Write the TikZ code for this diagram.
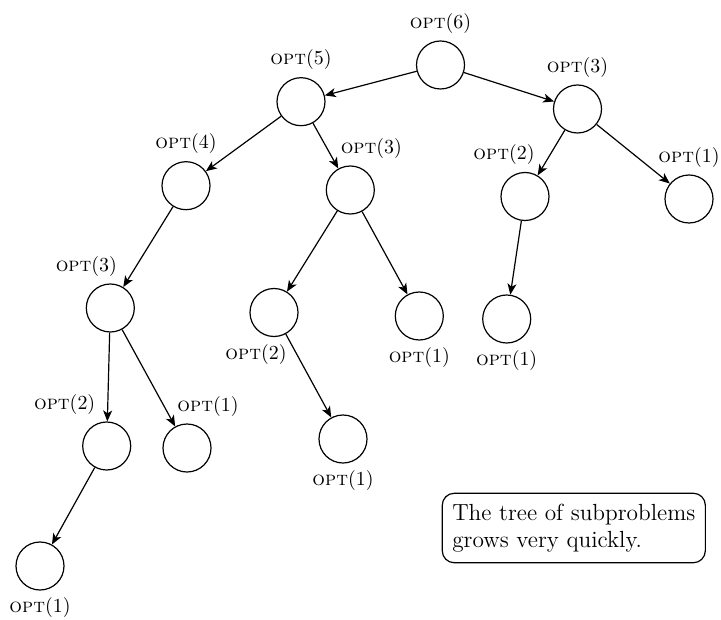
\documentclass[tikz,border=0pt]{standalone}
\usetikzlibrary{arrows.meta}
\tikzset{
  sub/.style={draw, circle, minimum size=24bp, inner sep=0pt},
  note/.style={draw, rounded corners=6bp, align=left, inner xsep=5bp, inner ysep=5.3bp,
    font=\fontsize{11.7}{13.6}\selectfont},
}
\newcommand{\opt}[1]{\textsc{opt}(#1)}
\begin{document}
\begin{tikzpicture}[>={Stealth[length=5.5bp, width=4.5bp, inset=1.5bp]}, x=0.5bp, y=-0.5bp, line width=0.6pt]
\useasboundingbox (0,0) rectangle (721,620);
% level 0 and 1
\node[sub, label={above:\opt{6}}] (n6) at (440.5,65) {};
\node[sub, label={above:\opt{5}}] (n5) at (301,101.7) {};
\node[sub, label={above:\opt{3}}] (n3a) at (577.5,109) {};
% level 2
\node[sub, label={above:\opt{4}}] (n4) at (186,185.7) {};
\node[sub, label={[xshift=10.5bp]above:\opt{3}}] (n3b) at (350.3,190) {};
\node[sub, label={[xshift=-10.5bp]above:\opt{2}}] (n2a) at (525,196.5) {};
\node[sub, label={above:\opt{1}}] (n1a) at (689,199) {};
% level 3
\node[sub, label={[xshift=-12bp]above:\opt{3}}] (n3c) at (110.3,308) {};
\node[sub, label={[xshift=-9bp]below:\opt{2}}] (n2b) at (274,312.5) {};
\node[sub, label={below:\opt{1}}] (n1b) at (419.3,316) {};
\node[sub, label={below:\opt{1}}] (n1c) at (506.7,319) {};
% level 4 and 5
\node[sub, label={[xshift=-21bp]above:\opt{2}}] (n2c) at (106.7,446) {};
\node[sub, label={[xshift=10.5bp]above:\opt{1}}] (n1e) at (187,448) {};
\node[sub, label={below:\opt{1}}] (n1d) at (343,439) {};
\node[sub, label={below:\opt{1}}] (n1f) at (40,566) {};

\foreach \a/\b in {n6/n5, n6/n3a, n5/n4, n5/n3b, n3a/n2a, n3a/n1a, n4/n3c,
  n3b/n2b, n3b/n1b, n2a/n1c, n3c/n2c, n3c/n1e, n2b/n1d, n2c/n1f}
{
    \draw[->] (\a)--(\b);
}

\node[note] (remark) at (573.8,528) {The tree of subproblems\\grows very quickly.};
\end{tikzpicture}
\end{document}
